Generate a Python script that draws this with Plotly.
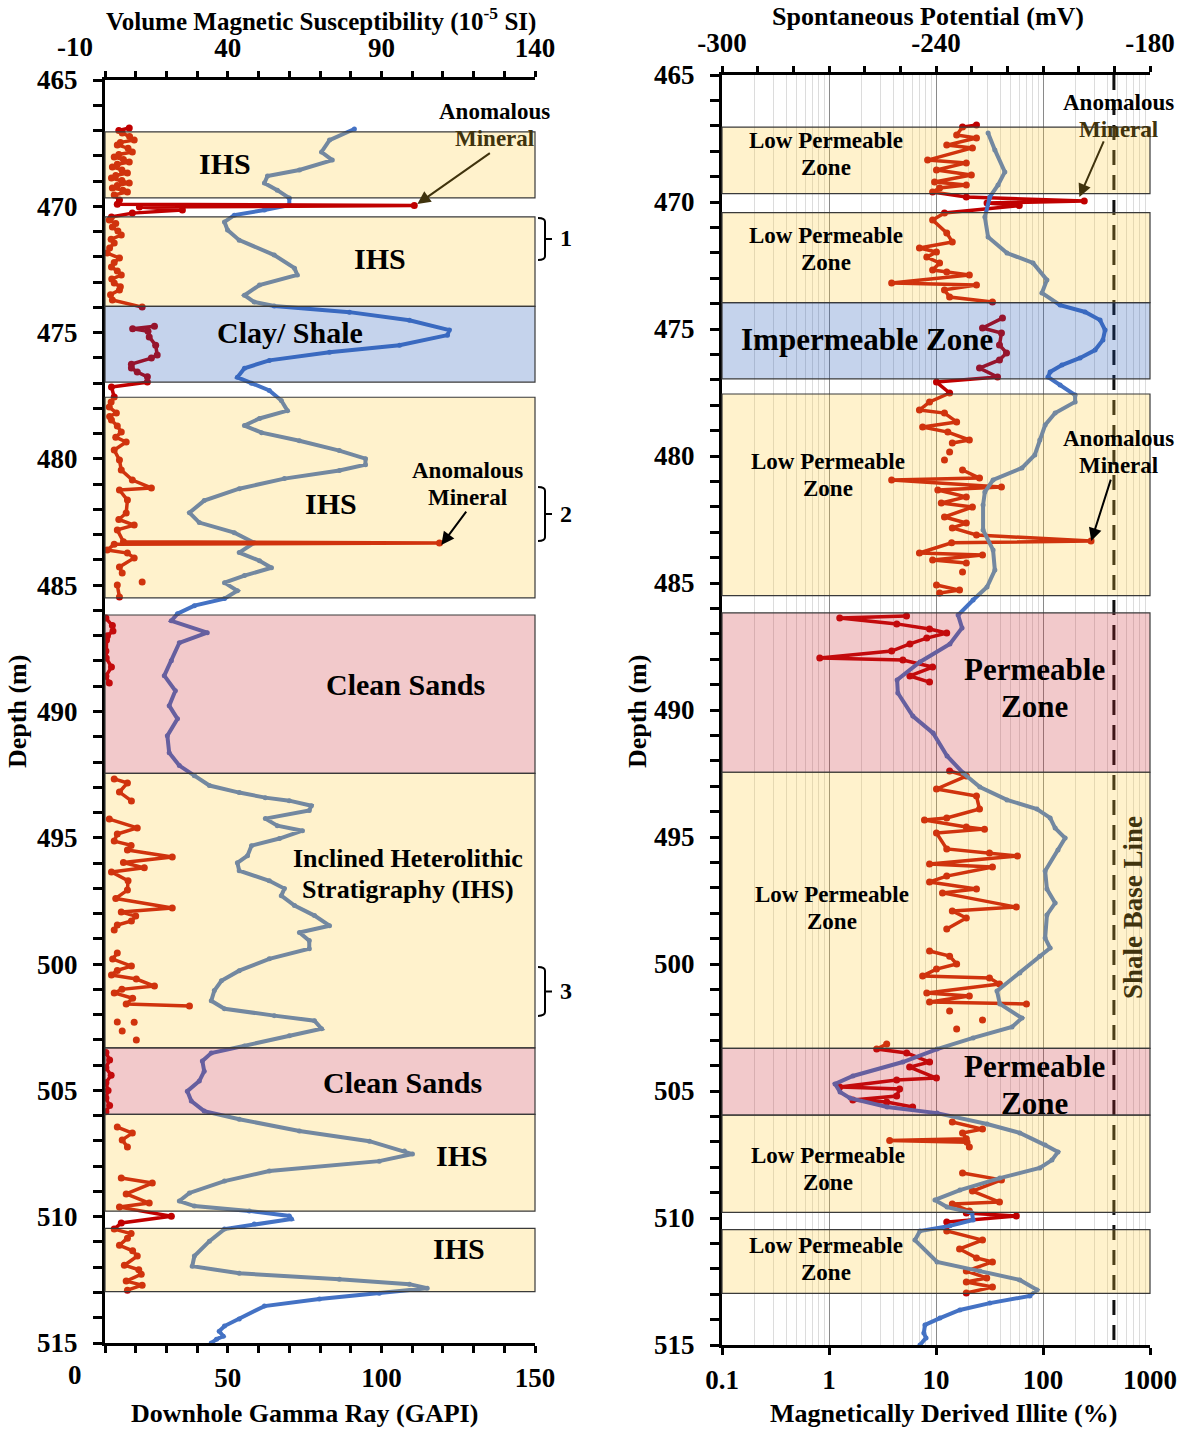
import plotly.graph_objects as go

W, H = 1183, 1431
def fx(x): return x / W
def fy(y): return 1 - y / H

FONT = "Liberation Serif"
OLIVE = "#40330d"

# ---------------- zones (depth, m) ----------------
zone_top = [467.05, 470.42, 473.96, 477.56, 486.18, 492.45, 503.32, 505.95, 510.46]
zone_bot = [469.67, 473.96, 476.96, 485.50, 492.45, 503.32, 505.95, 509.78, 512.97]
zone_kind = ["ihs", "ihs", "shale", "ihs", "sand", "ihs", "sand", "ihs", "ihs"]
zone_fill = {"ihs": "rgba(255,204,52,0.25)", "shale": "rgba(24,80,180,0.25)", "sand": "rgba(204,40,48,0.25)"}

# ---------------- left: downhole gamma ray (GAPI) ----------------
gr_depth = [466.94, 467.38, 467.85, 468.17, 468.56, 468.80, 469.08, 469.36, 469.67, 469.95,
            470.15, 470.35, 470.62, 470.94, 471.34, 471.93, 472.45, 472.72, 473.12, 473.52,
            473.79, 473.95, 474.19, 474.51, 474.90, 475.10, 475.50, 475.78, 476.10, 476.41,
            476.77, 477.01, 477.29, 477.69, 478.09, 478.40, 478.68, 478.96, 479.28, 479.67,
            479.99, 480.23, 480.46, 480.78, 481.18, 481.65, 482.13, 482.52, 482.92, 483.32,
            483.71, 484.03, 484.31, 484.62, 484.90, 485.22, 485.53, 485.81, 486.13, 486.41,
            486.88, 487.28, 487.99, 488.58, 489.18, 489.77, 490.29, 490.96, 491.63, 492.14,
            492.54, 492.93, 493.21, 493.41, 493.53, 493.73, 493.92, 494.24, 494.52, 494.72,
            495.03, 495.31, 495.71, 495.99, 496.30, 496.70, 497.01, 497.29, 497.68, 498.08,
            498.48, 498.75, 499.07, 499.39, 499.79, 500.26, 500.66, 501.05, 501.45, 501.77,
            502.04, 502.24, 502.56, 502.84, 503.24, 503.52, 503.84, 504.24, 504.63, 505.03,
            505.42, 505.82, 506.14, 506.61, 507.01, 507.40, 507.52, 507.80, 508.19, 508.59,
            509.06, 509.38, 509.58, 509.77, 509.97, 510.09, 510.29, 510.49, 510.97, 511.56,
            511.96, 512.24, 512.48, 512.67, 512.83, 513.03, 513.26, 513.54, 514.05, 514.33,
            514.53, 514.73, 514.85, 515.00]
gr_gapi = [91.2, 83.1, 80.5, 84.0, 73.3, 62.9, 61.9, 66.1, 70.0, 70.0,
           61.9, 52.1, 48.9, 49.9, 53.7, 65.1, 71.7, 72.6, 60.3, 55.4,
           58.6, 65.1, 89.6, 109.1, 122.1, 121.5, 105.9, 83.1, 63.5, 55.4,
           53.1, 57.7, 63.5, 67.4, 69.4, 60.3, 55.4, 61.0, 73.3, 86.3,
           94.8, 94.8, 86.3, 68.4, 53.7, 42.3, 37.5, 40.7, 52.1, 58.6,
           53.7, 60.3, 64.2, 55.4, 48.9, 53.1, 48.9, 39.1, 33.6, 31.6,
           43.3, 34.2, 31.6, 29.3, 32.9, 30.9, 33.6, 30.3, 30.9, 34.2,
           39.1, 44.0, 53.7, 62.2, 70.0, 77.2, 76.5, 62.2, 66.1, 74.3,
           66.8, 57.7, 56.4, 53.1, 53.7, 63.5, 68.4, 67.4, 71.7, 78.2,
           83.1, 73.3, 76.5, 76.5, 63.5, 53.7, 47.9, 45.6, 44.6, 48.9,
           65.1, 78.2, 80.5, 70.0, 55.4, 44.6, 41.7, 42.3, 40.7, 36.8,
           38.1, 42.3, 53.7, 73.3, 96.1, 107.5, 110.1, 99.3, 63.5, 48.9,
           37.5, 34.2, 39.1, 57.0, 70.0, 70.7, 58.6, 48.9, 44.0, 39.1,
           38.4, 53.7, 86.3, 109.1, 114.9, 99.3, 79.8, 61.9, 53.7, 48.9,
           47.2, 48.5, 46.3, 44.6]

# ---------------- left: volume magnetic susceptibility (1e-5 SI) ----------------
ms_depth = [466.90, 467.00, 467.10, 467.24, 467.38, 467.47, 467.57, 467.70, 467.85, 467.95,
            468.05, 468.15, 468.25, 468.34, 468.44, 468.56, 468.68, 468.78, 468.88, 468.98,
            469.08, 469.18, 469.28, 469.36, 469.43, 469.55, 469.75, 469.92, 469.97, 470.03,
            470.15, 470.27, 470.42, 470.54, 470.68, 470.82, 470.98, 471.14, 471.30, 471.45,
            471.65, 471.85, 472.05, 472.22, 472.40, 472.56, 472.72, 472.88, 473.04, 473.18,
            473.31, 473.50, 473.71, 473.99, None,
            474.75, 474.85, 474.95, 475.17, 475.50, 475.89, 476.01, 476.25, 476.40, 476.56,
            476.75, 476.96, 477.15, 477.55, 477.75, 477.95, 478.18, 478.32, 478.46, 478.70,
            478.94, 479.14, 479.33, 479.65, 480.04, 480.44, 480.84, 481.15, 481.23, 481.63,
            482.14, 482.40, 482.62, 482.81, 483.28, 483.33, 483.38, 483.61, 483.73, 483.92,
            484.28, 484.52, None,
            484.87, None,
            484.99, 485.47, None,
            486.30, 486.60, 486.81, 487.00, 487.17, 487.60, 487.88, 488.24, 488.60, 488.87, None,
            492.67, 492.83, 493.19, 493.54, None,
            494.26, 494.61, 494.85, 495.13, 495.30, 495.48, 495.76, 495.98, 496.19, 496.35,
            496.70, 497.07, 497.40, 497.78, 497.94, 498.10, 498.29, 498.45, 498.65, None,
            499.56, 499.80, 500.08, 500.25, 500.43, 500.59, 500.87, 501.00, 501.14, 501.35,
            501.58, 501.66, None,
            502.29, None, 502.30, None, 502.65, None, 503.00, None,
            503.50, 503.80, 504.10, 504.40, 504.70, 505.00, 505.30, 505.60, 505.85, None,
            506.45, 506.69, 506.96, 507.24, None,
            508.47, 508.67, 509.10, 509.46, 509.62, 509.98, 510.25, 510.49, 510.67, 510.85,
            511.13, 511.35, 511.56, 511.92, 512.10, 512.28, 512.55, 512.71, 512.91]
ms_si = [7.9, 4.5, 5.6, 8.0, 9.5, 5.0, 4.0, 7.5, 8.9, 4.5,
         3.0, 6.0, 7.9, 4.0, 2.4, 5.5, 7.3, 3.5, 2.1, 5.5,
         7.9, 4.0, 2.4, 5.8, 7.3, 3.0, 4.7, 4.0, 100.7, 11.2,
         25.2, 8.9, 2.1, 1.4, 3.5, 2.4, 4.2, 5.3, 2.0, 3.0,
         1.5, 0.7, 4.7, 3.0, 2.1, 4.0, 5.3, 2.2, 3.0, 5.0,
         4.7, 1.8, 2.4, 12.1, None,
         16.1, 9.0, 14.0, 14.4, 16.5, 17.0, 15.1, 8.6, 8.6, 10.5,
         13.8, 13.8, 2.1, 3.0, 2.0, 1.4, 3.7, 1.5, 2.1, 4.0,
         5.3, 3.5, 6.9, 3.0, 4.7, 5.3, 8.9, 15.1, 4.7, 7.3,
         6.9, 4.5, 9.5, 4.0, 6.0, 108.9, 3.0, 0.7, 7.3, 9.5,
         4.7, 5.6, None,
         12.1, None,
         4.0, 4.7, None,
         0.3, 2.4, 2.6, 0.8, 0.5, 0.3, 0.4, 2.1, 0.3, 1.4, None,
         3.0, 7.3, 4.7, 8.6, None,
         1.4, 10.5, 4.0, 3.0, 8.5, 7.3, 21.9, 6.0, 12.8, 2.1,
         7.5, 7.3, 3.5, 21.9, 5.3, 10.0, 8.6, 4.0, 3.0, None,
         4.0, 2.5, 8.6, 4.0, 2.1, 10.2, 16.1, 5.5, 3.0, 9.0,
         6.9, 27.5, None,
         4.0, None, 9.5, None, 5.6, None, 10.2, None,
         0.3, 1.5, 0.3, 2.0, 0.3, 1.0, 0.3, 1.5, 0.3, None,
         4.0, 8.9, 5.6, 7.3, None,
         5.3, 15.4, 6.9, 14.4, 4.7, 21.6, 5.3, 3.0, 8.5, 7.3,
         4.7, 9.0, 10.5, 6.3, 11.0, 11.8, 6.9, 12.1, 7.3]

# ---------------- right: spontaneous potential (mV) ----------------
sp_depth = [467.28, 467.95, 468.82, 469.33, 469.80, 470.59, 471.38, 472.01, 472.40, 473.07,
            473.58, 474.06, 474.33, 474.65, 475.04, 475.43, 475.83, 476.14, 476.42, 476.69,
            476.89, 477.20, 477.60, 477.87, 478.31, 478.78, 479.37, 479.96, 480.47, 480.94,
            481.42, 481.93, 482.91, 483.70, 484.49, 485.16, 485.67, 486.26, 486.77, 487.40,
            488.11, 488.82, 489.33, 490.24, 490.91, 491.81, 492.48, 493.03, 493.54, 493.90,
            494.25, 494.65, 495.04, 495.51, 496.34, 497.05, 497.60, 498.07, 498.98, 499.37,
            499.69, 500.35, 501.06, 501.57, 502.13, 502.48, 502.91, 503.35, 503.86, 504.41,
            504.72, 505.04, 505.28, 505.63, 505.87, 506.30, 506.65, 507.13, 507.40, 507.72,
            508.03, 508.43, 508.90, 509.29, 509.57, 509.80, 510.08, 510.31, 510.51, 510.87,
            511.73, 512.09, 512.44, 512.83, 513.07, 513.35, 513.62, 513.94, 514.21, 514.53,
            514.72, 515.00]
sp_mv = [-225.4, -223.5, -220.7, -222.6, -224.9, -226.3, -225.4, -220.1, -212.8, -208.9,
         -210.3, -205.2, -198.2, -194.0, -192.6, -193.2, -195.4, -199.6, -204.7, -208.0,
         -208.6, -205.2, -201.0, -201.0, -206.6, -209.4, -210.9, -212.3, -215.9, -224.0,
         -226.3, -226.8, -226.8, -224.0, -223.5, -225.7, -229.6, -233.8, -232.7, -236.1,
         -244.5, -250.9, -250.7, -246.5, -240.8, -236.9, -232.4, -227.7, -220.1, -211.7,
         -208.0, -206.6, -203.8, -205.8, -209.4, -208.9, -206.6, -208.9, -209.4, -208.0,
         -210.9, -216.5, -222.9, -222.1, -215.9, -218.7, -229.6, -239.7, -249.3, -263.3,
         -268.3, -266.9, -264.1, -253.7, -239.7, -225.7, -216.5, -209.4, -205.8, -207.5,
         -210.9, -222.1, -233.3, -240.3, -236.9, -229.9, -229.6, -236.1, -244.5, -245.9,
         -239.7, -227.7, -216.5, -211.7, -213.7, -224.9, -233.3, -238.9, -243.1, -243.4,
         -242.8, -244.5]

# ---------------- right: magnetically derived illite (%) ----------------
il_depth = [466.97, 467.05, 467.36, 467.48, 467.76, 467.87, 468.35, 468.46, 468.74, 468.94,
            469.21, 469.33, 469.45, 469.61, 469.80, 469.96, 470.04, 470.14, 470.43, 470.71,
            471.22, 471.57, 471.81, 471.97, 472.17, 472.40, 472.68, 472.76, 472.87, 473.19,
            473.27, 473.46, 473.74, 473.94, None,
            474.57, 474.96, 475.16, 475.63, 475.94, 476.22, 476.54, 476.89, 477.09, 477.52,
            477.87, 478.19, 478.31, 478.66, 478.86, 479.06, 479.37, 479.49, None,
            479.84, None, 480.16, None,
            480.55, 480.87, 480.94, 481.22, 481.34, 481.61, 481.85, 482.01, 482.40, 482.64,
            482.83, 483.11, 483.35, 483.42, 483.82, 483.90, 484.09, 484.21, None,
            484.57, None,
            485.08, 485.28, 485.39, None,
            486.30, 486.38, 486.61, 486.81, 486.97, 487.17, 487.40, 487.68, 487.95, 488.03,
            488.31, 488.66, 488.90, None,
            492.40, 492.60, 493.11, 493.39, 493.90, 494.25, 494.33, 494.61, 494.69, 494.84,
            495.47, 495.63, 495.75, 496.06, 496.18, 496.54, 496.77, 497.05, 497.20, 497.76,
            497.91, 498.19, 498.62, None,
            499.49, 499.69, 500.00, 500.20, 500.47, 500.55, 500.79, 501.14, 501.26, 501.50,
            501.57, None,
            501.85, None, 502.20, None, 502.56, None,
            503.15, 503.35, 503.50, 503.86, 504.06, 504.49, 504.57, 504.84, 504.92, 505.20,
            505.35, 505.43, 505.63, None,
            506.22, 506.50, 506.65, 506.88, 506.95, 507.02, 507.20, None,
            508.23, 508.50, 508.94, 509.37, 509.45, 509.72, 509.80, 509.92, 510.16, 510.51,
            510.87, 511.22, 511.57, 511.73, 512.09, 512.36, 512.52, 512.72, 512.95]
il_pct = [23.9, 17.7, 15.6, 23.9, 12.6, 21.9, 8.35, 19.2, 10.1, 21.4,
          9.7, 19.2, 10.8, 9.3, 19.2, 243, 30.0, 60.0, 12.0, 9.3,
          12.6, 14.2, 7.0, 10.1, 8.2, 10.8, 9.3, 12.6, 20.5, 3.85,
          23.9, 12.0, 13.4, 33.7, None,
          41.8, 27.2, 40.9, 39.2, 45.6, 39.2, 25.5, 37.6, 10.1, 13.4,
          8.7, 7.0, 12.0, 15.6, 7.5, 12.9, 20.5, 14.2, None,
          13.4, None, 12.0, None,
          17.7, 25.5, 3.85, 40.9, 10.4, 19.2, 11.2, 21.9, 12.0, 19.2,
          14.2, 23.9, 281, 14.0, 7.0, 27.2, 9.3, 19.2, None,
          17.7, None,
          10.1, 16.6, 10.8, None,
          5.3, 1.26, 4.3, 8.7, 12.6, 8.2, 5.7, 3.85, 0.82, 4.9,
          9.3, 5.7, 8.7, None,
          13.4, 19.2, 10.1, 23.9, 25.5, 12.6, 7.8, 19.2, 28.4, 10.1,
          12.6, 31.6, 57.7, 8.7, 33.7, 12.6, 8.7, 23.9, 11.5, 56.3,
          14.2, 19.2, 12.6, None,
          8.7, 13.4, 15.6, 10.1, 7.5, 31.6, 39.2, 8.2, 20.5, 8.7,
          70.0, None,
          13.4, None, 27.2, None, 15.6, None,
          3.46, 2.79, 5.32, 8.71, 5.67, 10.1, 4.29, 1.26, 4.57, 4.29,
          1.67, 3.46, 6.05, None,
          14.2, 27.2, 17.7, 19.2, 3.69, 19.5, 20.5, None,
          17.7, 40.9, 21.9, 39.2, 14.2, 20.5, 19.2, 56.3, 12.6, 12.6,
          27.2, 16.6, 23.9, 33.7, 19.2, 29.8, 19.2, 33.7, 19.2]

shale_base_illite = 460
depth_range = [465, 515]
gr_ticks = [10, 20, 30, 40, 50, 60, 70, 80, 90, 100, 110, 120, 130, 140, 150]
gr_labels = ["", "", "", "", "50", "", "", "", "", "100", "", "", "", "", "150"]
ms_ticks = [0, 10, 20, 30, 40, 50, 60, 70, 80, 90, 100, 110, 120, 130, 140]
ms_labels = ["", "", "", "", "40", "", "", "", "", "90", "", "", "", "", "140"]
sp_ticks = [-300, -290, -280, -270, -260, -250, -240, -230, -220, -210, -200, -190, -180]
sp_labels = ["-300", "", "", "", "", "", "-240", "", "", "", "", "", "-180"]
il_ticks = [0.1, 1, 10, 100, 1000]
il_labels = ["0.1", "1", "10", "100", "1000"]
il_minor = [m * d for d in (0.1, 1, 10, 100) for m in range(2, 10)]
depth_ticks = list(range(465, 516))
depth_labels = [str(d) if d % 5 == 0 else "" for d in depth_ticks]

BLUE = "#4472C4"
RED = "#C00000"

fig = go.Figure()
fig.add_trace(go.Scatter(x=gr_gapi, y=gr_depth, xaxis="x", yaxis="y", mode="lines+markers",
                         line=dict(color=BLUE, width=4), marker=dict(color=BLUE, size=5),
                         showlegend=False))
fig.add_trace(go.Scatter(x=ms_si, y=ms_depth, xaxis="x2", yaxis="y", mode="lines+markers",
                         line=dict(color=RED, width=3.5), marker=dict(color=RED, size=7),
                         showlegend=False, cliponaxis=False))
fig.add_trace(go.Scatter(x=il_pct, y=il_depth, xaxis="x3", yaxis="y2", mode="lines+markers",
                         line=dict(color=RED, width=3.5), marker=dict(color=RED, size=7),
                         showlegend=False))
fig.add_trace(go.Scatter(x=[shale_base_illite, shale_base_illite], y=depth_range, xaxis="x3", yaxis="y2",
                         mode="lines", line=dict(color="#111111", width=3, dash="15px,10px"),
                         showlegend=False))
fig.add_trace(go.Scatter(x=sp_mv, y=sp_depth, xaxis="x4", yaxis="y2", mode="lines+markers",
                         line=dict(color=BLUE, width=4), marker=dict(color=BLUE, size=5),
                         showlegend=False))

tickfont = dict(family=FONT, size=27, color="black", weight="bold")
LX = [fx(105), fx(535)]
LY = [fy(1343), fy(80)]
RX = [fx(722), fx(1150)]
RY = [fy(1345), fy(75)]

common = dict(showline=True, linewidth=3, linecolor="black", ticks="outside", tickwidth=3,
              tickcolor="black", tickfont=tickfont, zeroline=False, showgrid=False, automargin=False)

fig.update_layout(
    width=W, height=H, margin=dict(l=0, r=0, t=0, b=0, pad=0, autoexpand=False),
    paper_bgcolor="white", plot_bgcolor="white", showlegend=False,
    xaxis=dict(domain=LX, anchor="y", side="bottom", range=[10, 150], tickmode="array",
               tickvals=gr_ticks, ticktext=gr_labels, ticklen=7, ticklabelstandoff=2, **common),
    xaxis2=dict(domain=LX, anchor="y", overlaying="x", side="top", range=[0, 140], tickmode="array",
                tickvals=ms_ticks, ticktext=ms_labels, ticklen=6, ticklabelstandoff=3, **common),
    yaxis=dict(domain=LY, anchor="x", range=[515, 465], tickmode="array", tickvals=depth_ticks,
               ticktext=depth_labels, ticklen=9, ticklabelstandoff=10, **common),
    xaxis3=dict(domain=RX, anchor="y2", side="bottom", type="log", range=[-1, 3], tickmode="array",
                tickvals=il_ticks, ticktext=il_labels, ticklen=7, ticklabelstandoff=2,
                showline=True, linewidth=3, linecolor="black", ticks="outside", tickwidth=3,
                tickcolor="black", tickfont=tickfont, zeroline=False, automargin=False,
                showgrid=True, gridcolor="#8a8a8a", gridwidth=1,
                minor=dict(tickmode="array", tickvals=il_minor, showgrid=True,
                           gridcolor="#dcdcdc", gridwidth=1, ticks="")),
    xaxis4=dict(domain=RX, anchor="y2", overlaying="x3", side="top", range=[-300, -180], tickmode="array",
                tickvals=sp_ticks, ticktext=sp_labels, ticklen=6, ticklabelstandoff=3, **common),
    yaxis2=dict(domain=RY, anchor="x3", range=[515, 465], tickmode="array", tickvals=depth_ticks,
                ticktext=depth_labels, ticklen=9, ticklabelstandoff=10, **common),
)

shapes = []
for t, b, k in zip(zone_top, zone_bot, zone_kind):
    for xr, yr in (("x domain", "y"), ("x3 domain", "y2")):
        shapes.append(dict(type="rect", xref=xr, yref=yr, x0=0, x1=1, y0=t, y1=b,
                           fillcolor=zone_fill[k], line=dict(color="#3a3a3a", width=1.2), layer="above"))

brackets = [(470.46, 472.13), (481.11, 483.25), (500.11, 502.05)]
bx0, bx1, bx2 = fx(538), fx(545), fx(552)
for top, bot in brackets:
    mid = (top + bot) / 2
    path = (f"M {bx0},{top} Q {bx1},{top} {bx1},{top + 0.15} L {bx1},{bot - 0.15} "
            f"Q {bx1},{bot} {bx0},{bot} M {bx1},{mid} L {bx2},{mid}")
    shapes.append(dict(type="path", xref="paper", yref="y", path=path,
                       line=dict(color="black", width=2), layer="above"))
fig.update_layout(shapes=shapes)

ann = []
def txt(x, y, s, size, color="black", angle=0):
    ann.append(dict(x=fx(x), y=fy(y), xref="paper", yref="paper", text=s, showarrow=False,
                    xanchor="center", yanchor="middle", textangle=angle,
                    font=dict(family=FONT, size=size, color=color, weight="bold")))

# axis titles
txt(321, 19, "Volume Magnetic Susceptibility (10<sup>-5</sup> SI)", 25)
txt(928, 16, "Spontaneous Potential (mV)", 26)
txt(304, 1413, "Downhole Gamma Ray (GAPI)", 26)
txt(943, 1413, "Magnetically Derived Illite (%)", 26)
txt(18, 712, "Depth (m)", 26, angle=-90)
txt(638, 712, "Depth (m)", 26, angle=-90)
txt(75, 47, "-10", 27)
txt(75, 1375, "0", 27)

# left panel labels
txt(494, 111, "Anomalous", 23)
txt(494, 139, "Mineral", 23, OLIVE)
txt(225, 163, "IHS", 30)
txt(380, 259, "IHS", 30)
txt(290, 333, "Clay/ Shale", 30)
txt(331, 504, "IHS", 30)
txt(467, 470, "Anomalous", 23)
txt(467, 497, "Mineral", 23)
txt(405, 685, "Clean Sands", 30)
txt(408, 858, "Inclined Heterolithic", 26)
txt(408, 889, "Stratigraphy (IHS)", 26)
txt(402, 1082, "Clean Sands", 30)
txt(462, 1155, "IHS", 30)
txt(459, 1248, "IHS", 30)
txt(566, 238, "1", 24)
txt(566, 514, "2", 24)
txt(566, 991, "3", 24)

# right panel labels
txt(1118, 103, "Anomalous", 23)
txt(1118, 129, "Mineral", 23, OLIVE)
for yy in (140, 235, 461, 894, 1155, 1245):
    xx = 826 if yy in (140, 235, 1245) else (832 if yy == 894 else 828)
    txt(xx, yy, "Low Permeable", 23)
    txt(xx, yy + 27, "Zone", 23)
txt(867, 340, "Impermeable Zone", 31)
txt(1118, 438, "Anomalous", 23)
txt(1118, 465, "Mineral", 23)
txt(1034, 669, "Permeable", 31)
txt(1034, 706, "Zone", 31)
txt(1034, 1066, "Permeable", 31)
txt(1034, 1103, "Zone", 31)
txt(1133, 908, "Shale Base Line", 27, OLIVE, angle=-90)

# arrows
def arrow(x, y, xr, yr, ax, ay, color="black"):
    ann.append(dict(x=x, y=y, xref=xr, yref=yr, ax=ax, ay=ay, axref="pixel", ayref="pixel",
                    text="", showarrow=True, arrowhead=2, arrowsize=1.3, arrowwidth=2,
                    arrowcolor=color))
arrow(111.7, 469.91, "x", "y", 74, -52, OLIVE)
arrow(119.5, 483.41, "x", "y", 26, -35)
arrow(2.34, 469.80, "x3", "y2", 25, -57, OLIVE)
arrow(2.451, 483.35, "x3", "y2", 20, -63)

fig.update_layout(annotations=ann)
fig.write_html("out.html", config={"displayModeBar": False},
               post_script="document.body.style.margin='0px';document.body.style.padding='0px';")
